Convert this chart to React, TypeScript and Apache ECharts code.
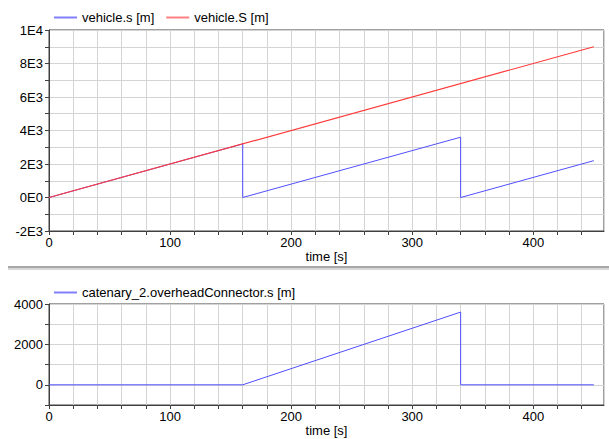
import React, { useEffect, useRef } from "react";
import * as echarts from "echarts";

// vehicle.s [m]
const vehSTime = [0, 160, 160, 340, 340, 450];
const vehSVal = [0, 3200, 0, 3600, 0, 2200];
// vehicle.S [m]
const vehBigSTime = [0, 450];
const vehBigSVal = [0, 9000];
// catenary_2.overheadConnector.s [m]
const catTime = [0, 160, 340, 340, 450];
const catVal = [0, 0, 3600, 0, 0];

const topYTicks = [-2000, 0, 2000, 4000, 6000, 8000, 10000];
const bottomYTicks = [0, 2000, 4000];
const xLabelTicks = [0, 100, 200, 300, 400];

const fmtE = (v: number) => {
  if (v === 0) return "0E0";
  const e = Math.floor(Math.log10(Math.abs(v)));
  const m = Math.round((v / Math.pow(10, e)) * 100) / 100;
  return `${m}E${e}`;
};

const zip = (t: number[], v: number[]) => t.map((x, i) => [x, v[i]]);

const FONT = "Liberation Sans, Arial, sans-serif";
const GRID_COLOR = "#d4d4d4";
const AXIS_COLOR = "#404040";
const BLUE = "#5050ff";
const RED = "#ff3a3a";

export default function App() {
  const ref = useRef<HTMLDivElement>(null);
  useEffect(() => {
    if (!ref.current) return;
    const chart = echarts.init(ref.current, undefined, { renderer: "svg" });
    const xAxisBase = (gridIndex: number) => ({
      type: "value" as const,
      gridIndex,
      min: 0,
      max: 458.4,
      interval: 20,
      name: "time [s]",
      nameLocation: "middle" as const,
      nameGap: 19,
      nameTextStyle: { color: "#000", fontSize: 13, fontFamily: FONT },
      axisLine: { show: true, onZero: false, lineStyle: { color: AXIS_COLOR, width: 1 } },
      axisTick: { show: true, inside: false, length: 4, lineStyle: { color: AXIS_COLOR } },
      axisLabel: {
        color: "#000",
        fontSize: 13,
        fontFamily: FONT,
        margin: 5,
        showMaxLabel: false,
        formatter: (v: number) => (xLabelTicks.includes(v) ? String(v) : ""),
      },
      splitLine: { show: true, lineStyle: { color: GRID_COLOR, width: 1 } },
    });
    const yAxisBase = (gridIndex: number, min: number, max: number, ticks: number[], fmt: (v: number) => string) => ({
      type: "value" as const,
      gridIndex,
      min,
      max,
      interval: 1000,
      axisLine: { show: true, onZero: false, lineStyle: { color: AXIS_COLOR, width: 1 } },
      axisTick: { show: true, inside: false, length: 4, lineStyle: { color: AXIS_COLOR } },
      axisLabel: {
        color: "#000",
        fontSize: 13,
        fontFamily: FONT,
        margin: 6,
        formatter: (v: number) => (ticks.includes(v) ? fmt(v) : ""),
      },
      splitLine: { show: true, lineStyle: { color: GRID_COLOR, width: 1 } },
    });
    chart.setOption({
      animation: false,
      backgroundColor: "#ffffff",
      textStyle: { fontFamily: FONT },
      legend: [
        {
          left: 49,
          top: 6,
          itemWidth: 23,
          itemHeight: 2,
          itemGap: 12,
          icon: "rect",
          textStyle: { color: "#000", fontSize: 13, fontFamily: FONT },
          data: [
            { name: "vehicle.s [m]", itemStyle: { color: "#8080ff" } },
            { name: "vehicle.S [m]", itemStyle: { color: "#ff8080" } },
          ],
        },
        {
          left: 49,
          top: 281,
          itemWidth: 23,
          itemHeight: 2,
          icon: "rect",
          textStyle: { color: "#000", fontSize: 13, fontFamily: FONT },
          data: [{ name: "catenary_2.overheadConnector.s [m]", itemStyle: { color: "#8080ff" } }],
        },
      ],
      grid: [
        { left: 49, top: 30, width: 555, height: 201, show: true, borderColor: AXIS_COLOR, borderWidth: 1, backgroundColor: "#fff" },
        { left: 49, top: 304, width: 555, height: 101, show: true, borderColor: AXIS_COLOR, borderWidth: 1, backgroundColor: "#fff" },
      ],
      xAxis: [xAxisBase(0), xAxisBase(1)],
      yAxis: [
        yAxisBase(0, -2000, 10000, topYTicks, fmtE),
        yAxisBase(1, -1000, 4000, bottomYTicks, (v) => String(v)),
      ],
      graphic: [
        { type: "rect", left: 8, top: 266, shape: { width: 601, height: 2 }, style: { fill: "#a8a8a8" } },
        { type: "rect", left: 8, top: 268, shape: { width: 601, height: 2 }, style: { fill: "#d8d8d8" } },
      ],
      series: [
        {
          name: "vehicle.s [m]",
          type: "line",
          xAxisIndex: 0,
          yAxisIndex: 0,
          data: zip(vehSTime, vehSVal),
          showSymbol: false,
          lineStyle: { color: BLUE, width: 1 },
          itemStyle: { color: BLUE },
          z: 2,
        },
        {
          name: "vehicle.S [m]",
          type: "line",
          xAxisIndex: 0,
          yAxisIndex: 0,
          data: zip(vehBigSTime, vehBigSVal),
          showSymbol: false,
          lineStyle: { color: RED, width: 1.2 },
          itemStyle: { color: RED },
          z: 3,
        },
        {
          name: "catenary_2.overheadConnector.s [m]",
          type: "line",
          xAxisIndex: 1,
          yAxisIndex: 1,
          data: zip(catTime, catVal),
          showSymbol: false,
          lineStyle: { color: BLUE, width: 1 },
          itemStyle: { color: BLUE },
        },
      ],
    });
    return () => chart.dispose();
  }, []);
  return (
    <div
      ref={ref}
      style={{ position: "fixed", left: 0, top: 0, width: 609, height: 439, background: "#fff" }}
    />
  );
}
